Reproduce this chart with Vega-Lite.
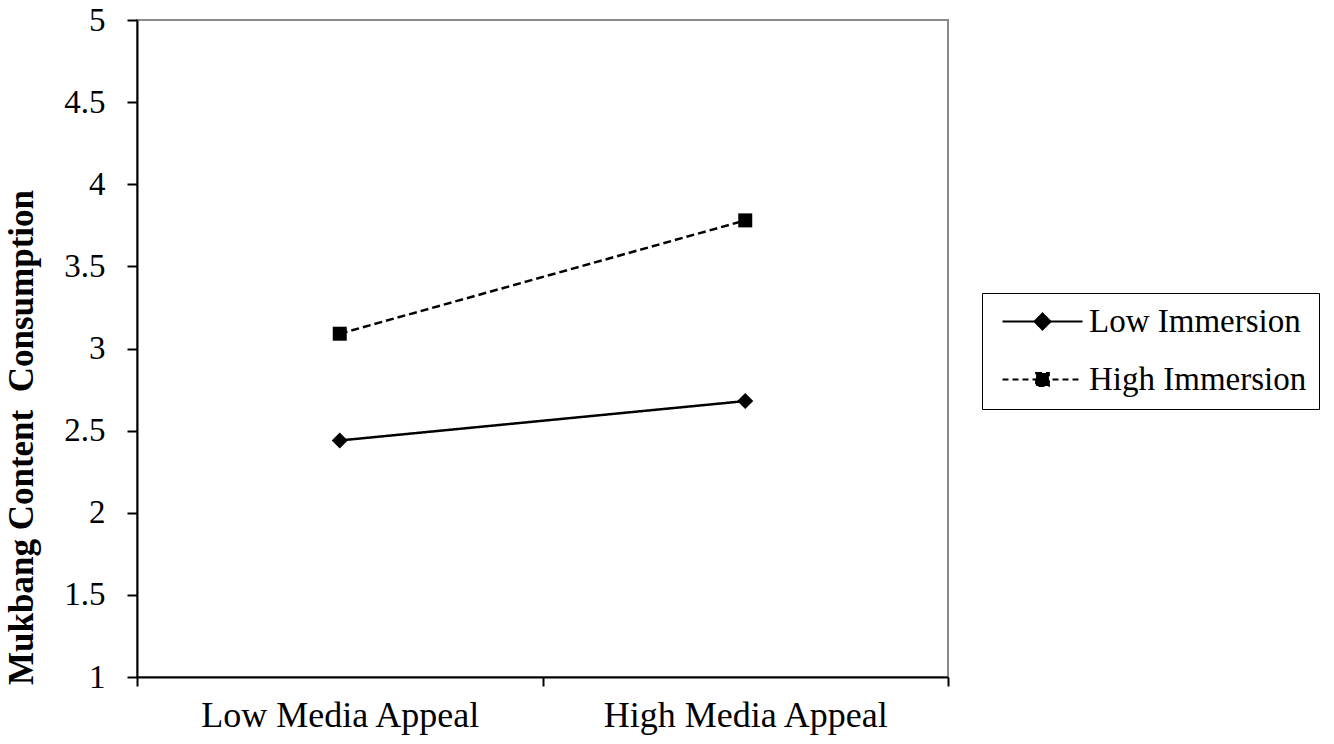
{
  "$schema": "https://vega.github.io/schema/vega-lite/v6.json",
  "autosize": "none",
  "width": 811,
  "height": 657,
  "padding": {"left": 137, "top": 20, "right": 386, "bottom": 67},
  "background": "white",
  "config": {
    "font": "Liberation Serif",
    "view": {"stroke": "#8a8a8a", "strokeWidth": 2},
    "axis": {"domainColor": "black", "tickColor": "black", "labelColor": "black", "titleColor": "black", "domainWidth": 2, "tickWidth": 2, "grid": false, "labelFont": "Liberation Serif", "titleFont": "Liberation Serif"},
    "legend": {
      "title": null,
      "orient": "none",
      "legendX": 845,
      "legendY": 273,
      "padding": 12,
      "strokeColor": "black",
      "fillColor": "white",
      "labelFontSize": 33,
      "labelFont": "Liberation Serif",
      "labelColor": "black",
      "symbolSize": 256,
      "symbolOffset": 32,
      "labelOffset": 30,
      "rowPadding": 24,
      "labelLimit": 400
    }
  },
  "data": {
    "values": [
      {"appeal": "Low Media Appeal", "immersion": "Low Immersion", "value": 2.44},
      {"appeal": "High Media Appeal", "immersion": "Low Immersion", "value": 2.68},
      {"appeal": "Low Media Appeal", "immersion": "High Immersion", "value": 3.09},
      {"appeal": "High Media Appeal", "immersion": "High Immersion", "value": 3.78}
    ]
  },
  "encoding": {
    "x": {
      "field": "appeal", "type": "nominal",
      "scale": {"type": "band", "domain": ["Low Media Appeal", "High Media Appeal"], "paddingInner": 0, "paddingOuter": 0},
      "axis": {"title": null, "labelAngle": 0, "labelFontSize": 36, "labelLimit": 500, "tickBand": "extent", "tickSize": 9, "labelPadding": 12}
    },
    "y": {
      "field": "value", "type": "quantitative",
      "scale": {"domain": [1, 5], "nice": false, "zero": false},
      "axis": {"title": "Mukbang Content\u00a0 Consumption", "titleFontSize": 35, "titleFontWeight": "bold", "titleY": 417, "titleAnchor": "middle", "labelFontSize": 33, "format": "~g", "values": [1, 1.5, 2, 2.5, 3, 3.5, 4, 4.5, 5], "tickSize": 10, "labelPadding": 22, "titlePadding": 24, "labelFlush": false}
    }
  },
  "layer": [
    {
      "mark": {"type": "line", "strokeWidth": 2.5},
      "encoding": {
        "color": {
          "field": "immersion", "type": "nominal",
          "scale": {"domain": ["Low Immersion", "High Immersion"], "range": ["black", "black"]},
          "legend": {
            "encode": {
              "symbols": {
                "update": {
                  "shape": {"signal": "datum.value === 'Low Immersion' ? 'M-5,0L5,0M-1,0L0,-1L1,0L0,1Z' : 'M-5,0L5,0M-0.8,-0.8L0.8,-0.8L0.8,0.8L-0.8,0.8Z'"},
                  "strokeDash": {"signal": "datum.value === 'Low Immersion' ? [1,0] : [6,4]"},
                  "fill": {"value": "black"},
                  "stroke": {"value": "black"},
                  "strokeWidth": {"value": 2},
                  "opacity": {"value": 1},
                  "size": {"value": 256}
                }
              }
            }
          }
        },
        "strokeDash": {"condition": {"test": "datum.immersion === 'Low Immersion'", "value": [1, 0]}, "value": [8, 4]}
      }
    },
    {
      "mark": {"type": "point", "filled": true, "color": "black", "opacity": 1},
      "encoding": {
        "size": {"condition": {"test": "datum.immersion === 'Low Immersion'", "value": 256}, "value": 196},
        "shape": {"condition": {"test": "datum.immersion === 'Low Immersion'", "value": "diamond"}, "value": "square"}
      }
    }
  ]
}
